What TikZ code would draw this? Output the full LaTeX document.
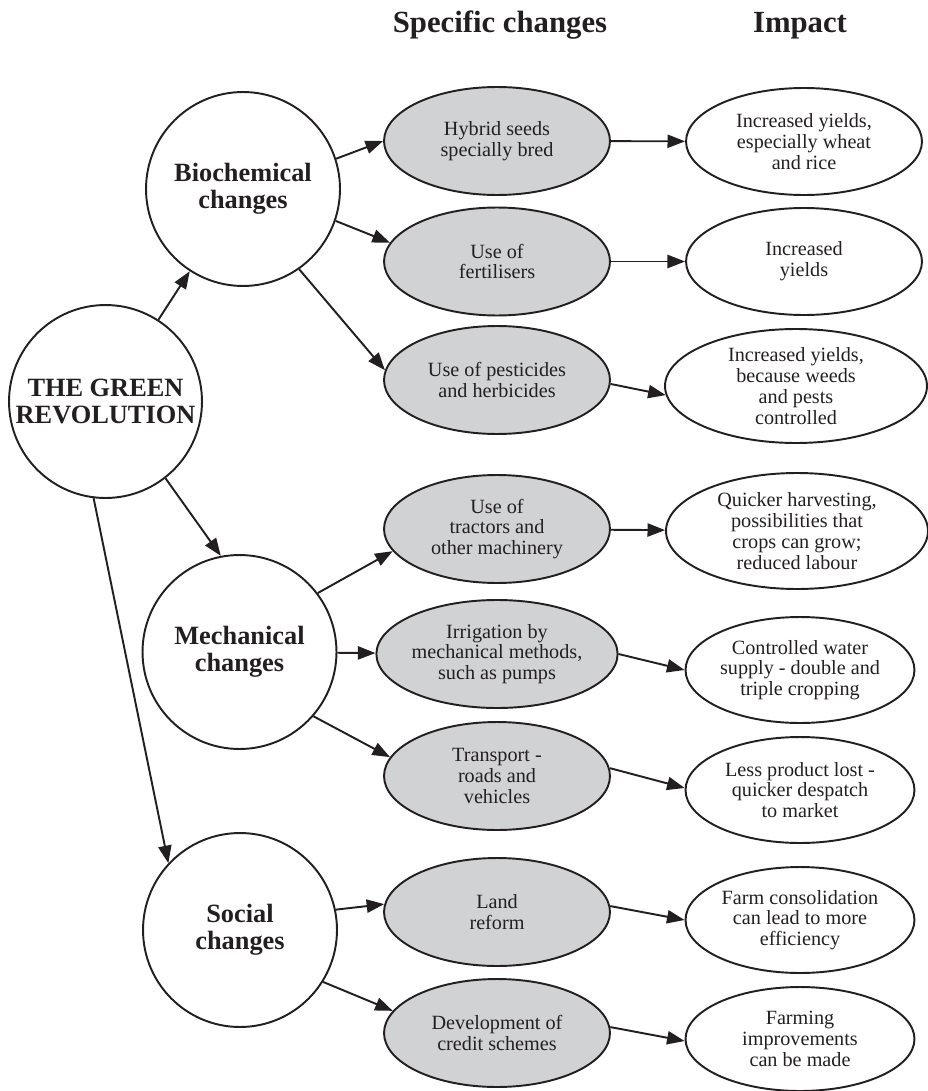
\documentclass[tikz,border=0pt]{standalone}
\usepackage{fontspec}
\setmainfont{Liberation Serif}
\usetikzlibrary{arrows.meta, shapes.geometric}
\definecolor{ink}{RGB}{35,31,32}
\definecolor{shade}{RGB}{209,210,212}

\begin{document}
\begin{tikzpicture}[
    x=0.02cm, y=-0.02cm, color=ink, line width=1.1pt,
    area/.style={draw, circle, minimum size=3.88cm, inner sep=0pt, align=center,
      font=\fontsize{15}{15.3}\selectfont\bfseries},
    change/.style={draw, ellipse, fill=shade, minimum width=4.52cm, minimum height=2.16cm,
      inner sep=0pt, align=center, font=\fontsize{11.5}{11.8}\selectfont},
    effect/.style={draw, ellipse, minimum width=4.58cm, minimum height=2.12cm,
      inner sep=0pt, align=center, font=\fontsize{11.5}{11.8}\selectfont},
    head/.style={anchor=base, font=\fontsize{17.5}{20}\selectfont\bfseries},
    arr/.style={-{Triangle[length=10pt, width=7.5pt]}}]
    \useasboundingbox (0,0) rectangle (927,1091);
    % column headings
    \node[head] (hchange) at (500,33) {Specific changes};
    \node[head] (himpact) at (800,33) {Impact};
    % left column
    \node[area, minimum size=3.86cm] (green) at (105.5,401.5) {THE GREEN\\REVOLUTION};
    \node[area] (bio)    at (243,189)   {Biochemical\\changes};
    \node[area] (mech)   at (239.5,652) {Mechanical\\changes};
    \node[area] (social) at (240,930)   {Social\\changes};
    % specific changes
    \node[change] (hybrid) at (497,141)   {Hybrid seeds\\specially bred};
    \node[change] (fert)   at (497,261.5) {Use of\\fertilisers};
    \node[change] (pest)   at (497,380)   {Use of pesticides\\and herbicides};
    \node[change] (tract)  at (497,529)   {Use of\\tractors and\\other machinery};
    \node[change] (irrig)  at (497,654)   {Irrigation by\\mechanical methods,\\such as pumps};
    \node[change] (trans)  at (497,776)   {Transport -\\roads and\\vehicles};
    \node[change] (land)   at (497,912)   {Land\\reform};
    \node[change] (credit) at (497,1033)  {Development of\\credit schemes};
    % impact
    \node[effect, minimum width=4.72cm, minimum height=2.14cm] (yield1) at (804,141.5) {Increased yields,\\especially wheat\\and rice};
    \node[effect, minimum width=4.72cm, minimum height=2.14cm] (yield2) at (804,261.5) {Increased\\yields};
    \node[effect, minimum width=5.24cm, minimum height=2.28cm] (yield3) at (796,386) {Increased yields,\\because weeds\\and pests\\controlled};
    \node[effect, minimum width=5.24cm, minimum height=2.32cm] (harvest) at (797,531) {Quicker harvesting,\\possibilities that\\crops can grow;\\reduced labour};
    \node[effect] (water)   at (800,670)  {Controlled water\\supply - double and\\triple cropping};
    \node[effect] (lost)    at (800,790)  {Less product lost -\\quicker despatch\\to market};
    \node[effect] (consol)  at (800,920)  {Farm consolidation\\can lead to more\\efficiency};
    \node[effect, minimum height=2.08cm] (improve) at (800,1039) {Farming\\improvements\\can be made};
    % connectors
    \draw[arr] (green) -- (bio);
    \draw[arr] (green.308) -- (mech.101);
    \draw[arr] (green.263) -- (social.137);
    \draw[arr] (bio.18) -- (hybrid.180);
    \draw[arr] (bio.-19) -- (fert.170);
    \draw[arr] (bio.-55) -- (pest.175);
    \draw[arr] (mech.37) -- (tract.192);
    \draw[arr] (mech) -- (irrig);
    \draw[arr] (mech.-41) -- (trans.170);
    \draw[arr] (social.12) -- (land.176);
    \draw[arr] (social.-32) -- (credit.168);
    \draw[arr] (hybrid) -- (yield1);
    \draw[arr] (fert) -- (yield2);
    \draw[arr] (pest.-2) -- (yield3.184);
    \draw[arr] (tract) -- (harvest);
    \draw[arr] (irrig.0) -- (water.180);
    \draw[arr] (trans.4) -- (lost.179);
    \draw[arr] (land.3) -- (consol.180);
    \draw[arr] (credit.3) -- (improve.181);
\end{tikzpicture}
\end{document}
